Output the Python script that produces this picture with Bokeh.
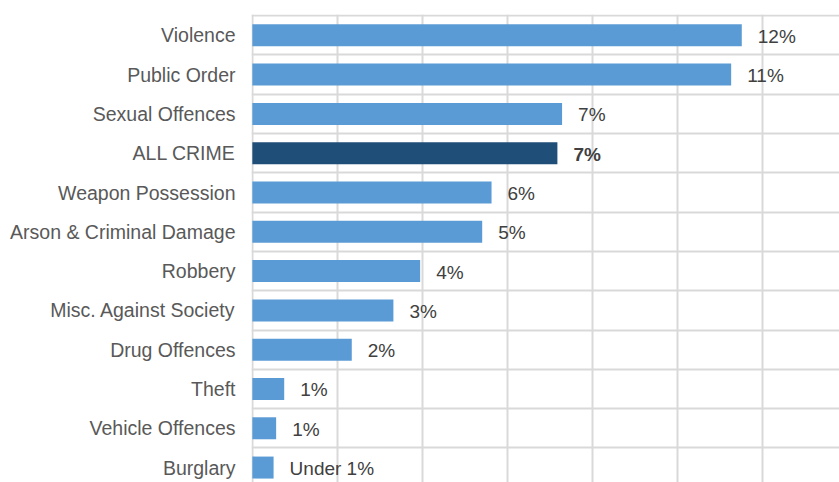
from bokeh.plotting import figure
from bokeh.models import ColumnDataSource, Range1d, FixedTicker
from bokeh.core.properties import value
from bokeh.embed import file_html
from bokeh.resources import INLINE

categories = ["Violence", "Public Order", "Sexual Offences", "ALL CRIME",
              "Weapon Possession", "Arson & Criminal Damage", "Robbery",
              "Misc. Against Society", "Drug Offences", "Theft",
              "Vehicle Offences", "Burglary"]
values = [11.52, 11.27, 7.29, 7.18, 5.63, 5.41, 3.95, 3.32, 2.34, 0.75, 0.56, 0.50]
labels = ["12%", "11%", "7%", "7%", "6%", "5%", "4%", "3%", "2%", "1%", "1%", "Under 1%"]
highlight = "ALL CRIME"

n = len(categories)
ypos = [n - 1 - i for i in range(n)]
colors = ["#1F4E79" if c == highlight else "#5B9BD5" for c in categories]
styles = ["bold" if c == highlight else "normal" for c in categories]

src = ColumnDataSource(dict(y=ypos, v=values, lab=labels, col=colors, fs=styles))

p = figure(width=839, height=482, output_backend="svg", toolbar_location=None,
           x_range=Range1d(-0.02, 13.82), y_range=Range1d(-0.38, n - 0.47),
           x_axis_location=None, min_border_top=14, min_border_bottom=0,
           min_border_right=0, min_border_left=251)
p.outline_line_color = None
p.background_fill_color = "white"
p.border_fill_color = "white"

p.hbar(y="y", left=0, right="v", height=0.56, fill_color="col", line_color=None, source=src)
p.text(x="v", y="y", text="lab", x_offset=16, y_offset=1, text_align="left", text_baseline="middle",
       text_font=value("Liberation Sans"), text_font_size="19px", text_color="#404040",
       text_font_style="fs", source=src)

p.yaxis.ticker = FixedTicker(ticks=ypos)
p.yaxis.major_label_overrides = {y: c for y, c in zip(ypos, categories)}
p.yaxis.major_label_text_font = "Liberation Sans"
p.yaxis.major_label_text_font_size = "19.5px"
p.yaxis.major_label_text_color = "#595959"
p.yaxis.major_tick_line_color = None
p.yaxis.minor_tick_line_color = None
p.yaxis.axis_line_color = None
p.yaxis.major_label_standoff = 10

p.xgrid.ticker = FixedTicker(ticks=[0, 2, 4, 6, 8, 10, 12])
p.ygrid.ticker = FixedTicker(ticks=[i + 0.5 for i in range(-1, n)])
p.xgrid.grid_line_color = "#D9D9D9"
p.ygrid.grid_line_color = "#D9D9D9"
p.xgrid.grid_line_width = 2
p.ygrid.grid_line_width = 2

open("out.html", "w").write(file_html(p, INLINE))
